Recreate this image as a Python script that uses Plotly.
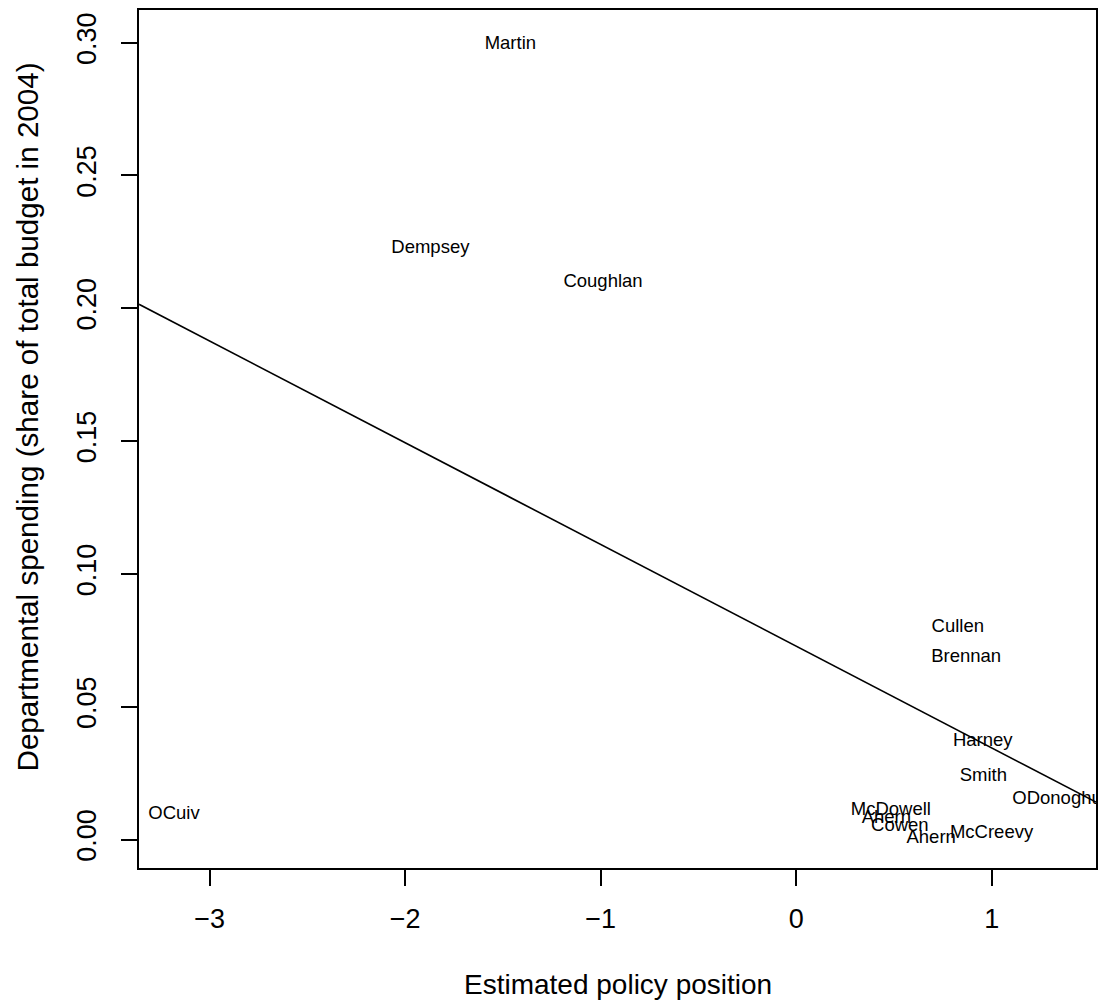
import plotly.graph_objects as go

# Data
names = ["Martin", "Dempsey", "Coughlan", "Cullen", "Brennan", "Harney", "Smith",
         "ODonoghue", "McDowell", "Ahern", "Cowen", "Ahern", "McCreevy", "OCuiv"]
position = [-1.462, -1.871, -0.988, 0.826, 0.869, 0.954, 0.957,
            1.360, 0.484, 0.461, 0.530, 0.690, 0.999, -3.182]
spending = [0.2995, 0.2227, 0.2096, 0.0800, 0.0685, 0.0371, 0.0237,
            0.0152, 0.0111, 0.0078, 0.0048, 0.0003, 0.0025, 0.0095]

# fitted regression line (abline)
intercept = 0.0728
slope = -0.0383

x_range = [-3.361, 1.533]
y_range = [-0.0107, 0.3123]

x_ticks = [-3, -2, -1, 0, 1]
x_ticklabels = ["\u22123", "\u22122", "\u22121", "0", "1"]
y_ticks = [0.00, 0.05, 0.10, 0.15, 0.20, 0.25, 0.30]
y_ticklabels = ["0.00", "0.05", "0.10", "0.15", "0.20", "0.25", "0.30"]

FONT = "Liberation Sans, Arial, Helvetica, sans-serif"

fig = go.Figure()

line_x = x_range
line_y = [intercept + slope * v for v in line_x]
fig.add_trace(go.Scatter(x=line_x, y=line_y, mode="lines",
                         line=dict(color="black", width=1.6),
                         hoverinfo="skip", showlegend=False))

fig.add_trace(go.Scatter(x=position, y=spending, mode="text", text=names,
                         textposition="middle center",
                         textfont=dict(family=FONT, size=18.5, color="black"),
                         cliponaxis=True, showlegend=False))

fig.update_layout(
    width=1099, height=1007,
    margin=dict(l=139, r=1, t=10, b=139),
    paper_bgcolor="white", plot_bgcolor="white",
    font=dict(family=FONT, color="black"),
    showlegend=False,
    annotations=[
        dict(text="Estimated policy position", xref="paper", yref="paper",
             x=0.5, y=-(985 - 868.5) / 858.5, xanchor="center", yanchor="middle",
             showarrow=False, font=dict(family=FONT, size=28, color="black")),
        dict(text="Departmental spending (share of total budget in 2004)",
             xref="paper", yref="paper",
             x=-(139 - 27) / 959.0, y=(868.5 - 417.5) / 858.5,
             xanchor="center", yanchor="middle", textangle=-90,
             showarrow=False, font=dict(family=FONT, size=29.6, color="black")),
    ],
)

fig.update_xaxes(range=x_range, tickmode="array", tickvals=x_ticks, ticktext=x_ticklabels,
                 ticks="outside", ticklen=16, tickwidth=1.6, tickcolor="black",
                 showline=True, linecolor="black", linewidth=2, mirror=True,
                 showgrid=False, zeroline=False, ticklabelstandoff=10,
                 tickfont=dict(family=FONT, size=27, color="black"))
fig.update_yaxes(range=y_range, tickmode="array", tickvals=y_ticks, ticktext=y_ticklabels,
                 ticks="outside", ticklen=16, tickwidth=1.6, tickcolor="black",
                 showline=True, linecolor="black", linewidth=2, mirror=True,
                 showgrid=False, zeroline=False, tickangle=-90, ticklabelstandoff=14,
                 tickfont=dict(family=FONT, size=27, color="black"))

fig.write_html("out.html", config={"displayModeBar": False},
               post_script="document.body.style.margin='0';document.body.style.padding='0';")
